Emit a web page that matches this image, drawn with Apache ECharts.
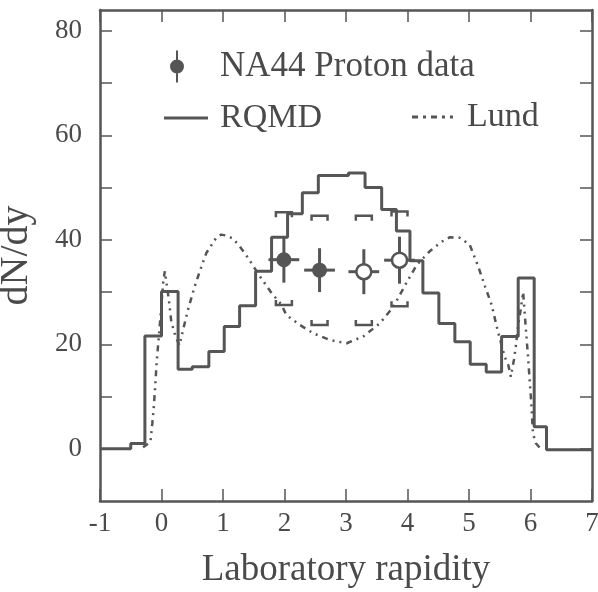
<!DOCTYPE html>
<html><head><meta charset="utf-8">
<script src="https://cdn.jsdelivr.net/npm/echarts@6/dist/echarts.min.js"></script>
<style>html,body{margin:0;padding:0;background:#fff}#chart{width:598px;height:592px}</style>
</head><body><div id="chart"></div>
<script>
// ---- data ----
const yTickValues = [0, 10, 20, 30, 40, 50, 60, 70, 80];
const yLabelValues = [0, 20, 40, 60, 80];

// RQMD histogram: bin edges and bin contents
const rqmdEdges = [-1.0, -0.5, -0.27, 0.0, 0.27, 0.5, 0.77, 1.02, 1.27, 1.53, 1.79, 2.05, 2.29, 2.55, 2.8, 3.04, 3.31, 3.58, 3.82, 4.04, 4.25, 4.51, 4.77, 5.02, 5.28, 5.53, 5.8, 6.06, 6.26, 7.0];
const rqmdValues = [0, 1.0, 21.6, 30.1, 15.2, 15.7, 18.6, 23.4, 27.4, 34.0, 40.5, 45.0, 49.0, 52.3, 52.3, 52.8, 50.0, 45.8, 41.7, 36.0, 29.8, 24.0, 20.5, 16.2, 14.7, 21.5, 32.7, 4.2, -0.2];

// Lund curve
const lundX = [-0.3, -0.18, -0.15, -0.125, -0.10, -0.08, -0.055, -0.016, 0.026, 0.054, 0.12, 0.16, 0.22, 0.29, 0.35, 0.43, 0.54, 0.65, 0.73, 0.89, 0.97, 1.06, 1.15, 1.25, 1.41, 1.6, 1.79, 1.95, 2.03, 2.25, 2.47, 2.74, 3.01, 3.28, 3.55, 3.77, 3.98, 4.15, 4.36, 4.55, 4.69, 4.85, 5.01, 5.15, 5.26, 5.37, 5.45, 5.58, 5.64, 5.68, 5.73, 5.76, 5.80, 5.84, 5.88, 5.93, 5.96, 5.99, 6.01, 6.04, 6.09, 6.15];
const lundY = [0.3, 1.3, 4.8, 8.0, 12.5, 16.3, 19.9, 25.3, 31.7, 34.0, 28.5, 24.3, 21.8, 19.8, 22.7, 26.6, 31.1, 34.9, 37.5, 40.4, 41.0, 40.8, 40.3, 39.1, 36.5, 33.0, 29.8, 27.6, 25.6, 23.7, 22.1, 20.8, 20.2, 21.5, 24.0, 27.2, 31.7, 35.2, 37.8, 39.6, 40.5, 40.4, 39.1, 34.9, 31.1, 27.5, 23.4, 17.6, 16.0, 13.8, 17.0, 19.5, 23.7, 26.6, 30.0, 22.1, 17.6, 12.5, 9.3, 2.9, 1.0, 0.2];

// NA44 proton data points
const dataX = [1.99, 2.57, 3.29, 3.87];
const dataY = [36.2, 34.2, 33.9, 36.1];
const statErr = [4.4, 4.2, 4.3, 4.5];
const xHalfWidth = [0.25, 0.25, 0.25, 0.25];
const sysHigh = [45.3, 44.6, 44.6, 45.4];
const sysLow = [27.5, 23.7, 23.7, 27.3];
const sysHalfWidth = [0.13, 0.13, 0.13, 0.13];
const isMeasured = [true, true, false, false];

// ---- build chart ----
const INK = '#555';
const TXT = '#4a4a4a';
const FONT = 'Liberation Serif';

const histPts = [];
for (let i = 0; i < rqmdValues.length; i++) {
  histPts.push([rqmdEdges[i], rqmdValues[i]]);
  histPts.push([rqmdEdges[i + 1], rqmdValues[i]]);
}
const lundPts = lundX.map((x, i) => [x, lundY[i]]);
const filledPts = [], openPts = [], errPts = [], sysPts = [];
dataX.forEach((x, i) => {
  (isMeasured[i] ? filledPts : openPts).push([x, dataY[i]]);
  errPts.push([x, dataY[i], statErr[i], xHalfWidth[i]]);
  sysPts.push([x, sysHigh[i], sysLow[i], sysHalfWidth[i]]);
});

const chart = echarts.init(document.getElementById('chart'), null, {renderer: 'canvas'});
const axisLine = {show: true, onZero: false, lineStyle: {color: INK, width: 2.5}};
const tick = {show: true, inside: true, length: 12, lineStyle: {color: INK, width: 1.5}};
const option = {
  animation: false,
  backgroundColor: '#fff',
  grid: {left: 100, right: 6, top: 10, bottom: 91, containLabel: false, outerBoundsMode: 'none'},
  xAxis: [
    {type: 'value', min: -1, max: 7, interval: 1, position: 'bottom',
     axisLine: axisLine, splitLine: {show: false}, axisTick: tick,
     axisLabel: {fontFamily: FONT, fontSize: 27, color: TXT, margin: 9},
     name: 'Laboratory rapidity', nameLocation: 'middle', nameGap: 51,
     nameTextStyle: {fontFamily: FONT, fontSize: 37, color: TXT}},
    {type: 'value', min: -1, max: 7, interval: 1, position: 'top',
     axisLine: axisLine, splitLine: {show: false}, axisTick: tick,
     axisLabel: {show: false}}
  ],
  yAxis: [
    {type: 'value', min: -10, max: 84, position: 'left',
     axisLine: axisLine, splitLine: {show: false},
     axisTick: Object.assign({customValues: yTickValues}, tick),
     axisLabel: {fontFamily: FONT, fontSize: 27, color: TXT, margin: 18, customValues: yLabelValues},
     name: 'dN/dy', nameLocation: 'middle', nameGap: 64, nameRotate: 90,
     nameTextStyle: {fontFamily: FONT, fontSize: 40, color: TXT}},
    {type: 'value', min: -10, max: 84, position: 'right',
     axisLine: axisLine, splitLine: {show: false},
     axisTick: Object.assign({customValues: yTickValues}, tick),
     axisLabel: {show: false}}
  ],
  legend: [
    {data: [{name: 'NA44 Proton data', icon: 'path://M6,0h2v32h-2z M14,16a7,7 0 1,1 -14,0a7,7 0 1,1 14,0z'}],
     left: 170, top: 49, padding: 0, itemWidth: 14, itemHeight: 32,
     textStyle: {fontFamily: FONT, fontSize: 35, color: TXT, padding: [0, 0, 0, 31]}},
    {data: [{name: 'RQMD', icon: 'rect'}], left: 164, top: 101, padding: 0, itemWidth: 44, itemHeight: 3,
     itemStyle: {color: INK, borderWidth: 0},
     textStyle: {fontFamily: FONT, fontSize: 34, color: TXT, padding: [0, 0, 0, 7]}},
    {data: [{name: 'Lund', icon: 'path://M0,0h6v3h-6z M11,0h3v3h-3z M19,0h6v3h-6z M30,0h3v3h-3z M38,0h3v3h-3z'}],
     left: 412, top: 100, padding: 0, itemWidth: 41, itemHeight: 3,
     itemStyle: {color: INK, borderWidth: 0},
     textStyle: {fontFamily: FONT, fontSize: 34, color: TXT, padding: [0, 0, 0, 9]}}
  ],
  series: [
    {name: 'RQMD', type: 'line', data: histPts, symbol: 'none', showSymbol: false,
     lineStyle: {color: INK, width: 3}, itemStyle: {color: INK}, z: 2},
    {name: 'Lund', type: 'line', data: lundPts, symbol: 'none', showSymbol: false,
     lineStyle: {color: INK, width: 2.5, type: [6, 5, 2, 5, 2, 5]}, itemStyle: {color: INK}, z: 2},
    {name: 'sys', type: 'custom', data: sysPts, z: 3,
     renderItem: function (params, api) {
       const x = api.value(0), hi = api.value(1), lo = api.value(2), hw = api.value(3);
       const a = api.coord([x - hw, hi]), b = api.coord([x + hw, hi]);
       const c = api.coord([x - hw, lo]), d = api.coord([x + hw, lo]);
       const st = {stroke: INK, lineWidth: 2.5, fill: null};
       return {type: 'group', children: [
         {type: 'polyline', shape: {points: [[a[0], a[1] + 5], a, b, [b[0], b[1] + 5]]}, style: st},
         {type: 'polyline', shape: {points: [[c[0], c[1] - 5], c, d, [d[0], d[1] - 5]]}, style: st}
       ]};
     }},
    {name: 'err', type: 'custom', data: errPts, z: 3,
     renderItem: function (params, api) {
       const x = api.value(0), y = api.value(1), e = api.value(2), hw = api.value(3);
       const t = api.coord([x, y + e]), bt = api.coord([x, y - e]);
       const l = api.coord([x - hw, y]), r = api.coord([x + hw, y]);
       const st = {stroke: INK, lineWidth: 3};
       return {type: 'group', children: [
         {type: 'line', shape: {x1: t[0], y1: t[1], x2: bt[0], y2: bt[1]}, style: st},
         {type: 'line', shape: {x1: l[0], y1: l[1], x2: r[0], y2: r[1]}, style: st}
       ]};
     }},
    {name: 'NA44 Proton data', type: 'scatter', data: filledPts, symbol: 'circle', symbolSize: 15,
     itemStyle: {color: INK, opacity: 1}, z: 5},
    {name: 'NA44 reflected', type: 'scatter', data: openPts, symbol: 'circle', symbolSize: 15,
     itemStyle: {color: '#fff', borderColor: INK, borderWidth: 2.5, opacity: 1}, z: 5}
  ]
};
chart.setOption(option);
</script>
</body></html>
